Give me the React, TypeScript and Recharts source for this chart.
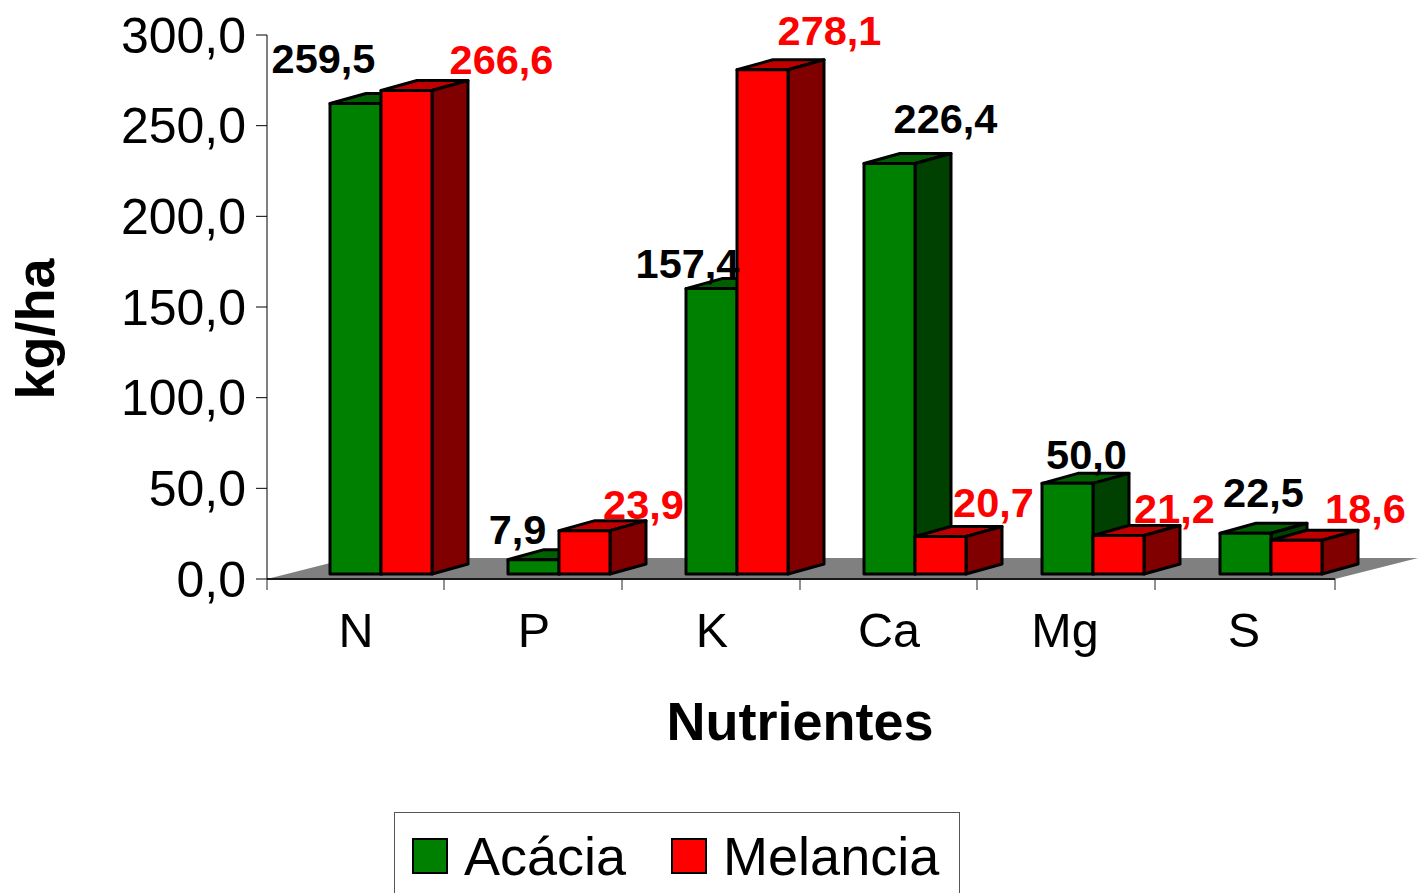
import { Bar, BarChart, LabelList, Legend, ReferenceArea, XAxis, YAxis } from "recharts";

const nutrients = ["N", "P", "K", "Ca", "Mg", "S"];
const acacia = [259.5, 7.9, 157.4, 226.4, 50.0, 22.5];
const melancia = [266.6, 23.9, 278.1, 20.7, 21.2, 18.6];
const valueTicks = [0, 50, 100, 150, 200, 250, 300];

// hand-placed label nudges, relative to the top centre of each bar
const acaciaLabelNudge = [
  [-32, -30],
  [-16, -16],
  [-24, -11],
  [56, -30],
  [19, -14],
  [18, -26],
];
const melanciaLabelNudge = [
  [95, -17],
  [59, -12],
  [67, -25],
  [53, -19],
  [56, -13],
  [69, -17],
];
const categoryLabelNudge = [0, 0, 0, -1, -3, -2];
const edgeTickNudge = [0, -1, -1, -1, -2, -2];

const data = nutrients.map((name, i) => ({ name, acacia: acacia[i], melancia: melancia[i] }));

const FONT = "'Liberation Sans', Arial, sans-serif";
const BAND_HALF = 89;
const SHIFT_X = 25;
const SHIFT_Y = 5;
const DEPTH_X = 36;
const DEPTH_Y = 10;
const comma = (v: number) => v.toFixed(1).replace(".", ",");

// front face pushed onto the floor, with a top and a side face behind it
const bar3d = (topColor: string, sideColor: string) => (props: any) => {
  const { fill, width, height } = props;
  const x = props.x + SHIFT_X;
  const y = props.y - SHIFT_Y;
  const r = x + width;
  const b = y + height;
  const edge = { stroke: "#000", strokeWidth: 3, strokeLinejoin: "round" as const };
  return (
    <g>
      <polygon
        points={`${x},${y} ${x + DEPTH_X},${y - DEPTH_Y} ${r + DEPTH_X},${y - DEPTH_Y} ${r},${y}`}
        fill={topColor}
        {...edge}
      />
      <polygon
        points={`${r},${y} ${r + DEPTH_X},${y - DEPTH_Y} ${r + DEPTH_X},${b - DEPTH_Y} ${r},${b}`}
        fill={sideColor}
        {...edge}
      />
      <rect x={x} y={y} width={width} height={height} fill={fill} {...edge} />
    </g>
  );
};

const valueLabel = (color: string, nudge: number[][]) => (props: any) => {
  const { x, y, width, value, index } = props;
  return (
    <text
      x={x + SHIFT_X + width / 2 + nudge[index][0]}
      y={y - SHIFT_Y + nudge[index][1]}
      fill={color}
      textAnchor="middle"
      fontFamily={FONT}
      fontWeight="bold"
      fontSize={41.5}
    >
      {comma(value)}
    </text>
  );
};

// category ticks sit on the band edges, labels stay in the middle
const CategoryTick = (props: any) => {
  const { x, y, payload, index } = props;
  const last = index === nutrients.length - 1;
  const edge = x - BAND_HALF + edgeTickNudge[index];
  return (
    <g>
      <line x1={edge} y1={y} x2={edge} y2={y + 11} stroke="#222" />
      {last && <line x1={x + BAND_HALF} y1={y} x2={x + BAND_HALF} y2={y + 11} stroke="#222" />}
      <text
        x={x + categoryLabelNudge[index]}
        y={y + 68}
        textAnchor="middle"
        fontFamily={FONT}
        fontSize={48.5}
        fill="#000"
      >
        {payload.value}
      </text>
    </g>
  );
};

// grey floor drawn as a parallelogram going back from the category axis
const Floor = (props: any) => {
  const { x, y, width, height } = props;
  const b = y + height;
  return (
    <g>
      <polygon
        points={`${x},${b} ${x + width},${b} ${x + width + 83},${y} ${x + 83},${y}`}
        fill="#808080"
      />
      <line x1={x} y1={b} x2={x + width} y2={b} stroke="#333" strokeWidth={2} />
    </g>
  );
};

const LegendBox = ({ payload }: any) => (
  <div
    style={{
      boxSizing: "border-box",
      width: 566,
      height: 100,
      border: "1.5px solid #555",
      background: "#fff",
      display: "flex",
      fontFamily: FONT,
      fontSize: 54,
      lineHeight: "62px",
      color: "#000",
      paddingLeft: 17,
      paddingTop: 12,
    }}
  >
    {(payload || []).map((entry: any, i: number) => (
      <div key={entry.value} style={{ display: "flex", alignItems: "center", height: 62, marginLeft: i ? 45 : 0 }}>
        <span
          style={{
            boxSizing: "border-box",
            width: 36,
            height: 36,
            background: entry.color,
            border: "2.5px solid #000",
            marginRight: 16,
          }}
        />
        <span>{entry.value}</span>
      </div>
    ))}
  </div>
);

export default function App() {
  return (
    <div style={{ position: "absolute", left: 0, top: 0, width: 1418, height: 893, overflow: "hidden", background: "#fff" }}>
      <BarChart
        width={1418}
        height={893}
        data={data}
        margin={{ top: 35, right: 83, bottom: 254, left: 147 }}
        barSize={51}
        barGap={0}
      >
        <ReferenceArea y1={0} y2={11.6} shape={Floor} />
        <XAxis
          dataKey="name"
          height={60}
          stroke="#000"
          tickLine={false}
          tickSize={0}
          tickMargin={0}
          interval={0}
          tick={CategoryTick}
        />
        <YAxis
          width={120}
          domain={[0, 300]}
          ticks={valueTicks}
          tickFormatter={comma}
          stroke="#000"
          tickSize={11}
          tickMargin={10}
          interval={0}
          tick={{ fill: "#000", fontFamily: FONT, fontSize: 50 }}
        />
        <Bar
          dataKey="acacia"
          name="Acácia"
          fill="#008000"
          isAnimationActive={false}
          shape={bar3d("#006000", "#004000")}
        >
          <LabelList dataKey="acacia" content={valueLabel("#000", acaciaLabelNudge)} />
        </Bar>
        <Bar
          dataKey="melancia"
          name="Melancia"
          fill="#ff0000"
          isAnimationActive={false}
          shape={bar3d("#c00000", "#800000")}
        >
          <LabelList dataKey="melancia" content={valueLabel("#ff0000", melanciaLabelNudge)} />
        </Bar>
        <text x={800} y={740} textAnchor="middle" fontFamily={FONT} fontWeight="bold" fontSize={54} fill="#000">
          Nutrientes
        </text>
        <text
          transform="translate(54,329) rotate(-90)"
          textAnchor="middle"
          fontFamily={FONT}
          fontWeight="bold"
          fontSize={54}
          fill="#000"
        >
          kg/ha
        </text>
        <Legend
          layout="horizontal"
          verticalAlign="middle"
          align="center"
          content={LegendBox}
          wrapperStyle={{ position: "absolute", left: 394, top: 812, width: 566, height: 100, margin: 0 }}
        />
      </BarChart>
    </div>
  );
}
